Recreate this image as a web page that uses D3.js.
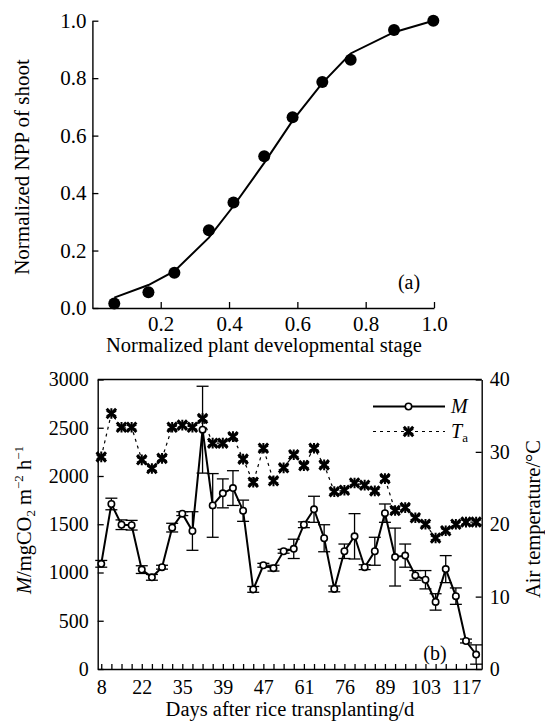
<!DOCTYPE html>
<html>
<head>
<meta charset="utf-8">
<script src="https://cdn.jsdelivr.net/npm/d3@7"></script>
<style>
  body { margin: 0; background: #fff; }
  svg text { font-family: "Liberation Serif", "DejaVu Serif", serif; fill: #000; }
</style>
</head>
<body>
<svg id="fig" width="545" height="722"></svg>
<script>
// panel (a): normalized NPP vs developmental stage
const stage = [0.064, 0.164, 0.240, 0.341, 0.413, 0.503, 0.586, 0.673, 0.756, 0.883, 0.998];
const nppObs = [0.016, 0.055, 0.123, 0.271, 0.367, 0.528, 0.664, 0.787, 0.864, 0.968, 1.0];
const nppFit = [0.036, 0.080, 0.128, 0.245, 0.355, 0.505, 0.652, 0.783, 0.886, 0.960, 1.0];
const stageTicks = [0.2, 0.4, 0.6, 0.8, 1.0];
const nppTicks = [0, 0.2, 0.4, 0.6, 0.8, 1.0];

// panel (b): M with error bars and air temperature, one entry per measurement
const mValues = [1090, 1710, 1495, 1490, 1030, 950, 1055, 1465, 1610, 1430,
                 2480, 1695, 1820, 1875, 1640, 825, 1075, 1045, 1220, 1245,
                 1495, 1655, 1355, 830, 1220, 1375, 1055, 1220, 1615, 1160,
                 1175, 970, 925, 695, 1035, 755, 290, 150];
const mErr = [35, 60, 50, 50, 40, 30, 20, 45, 20, 200,
              450, 330, 150, 180, 110, 30, 20, 30, 20, 100,
              30, 135, 140, 30, 75, 235, 25, 145, 95, 300,
              120, 50, 95, 85, 140, 85, 20, 100];
const taValues = [29.3, 35.3, 33.4, 33.4, 28.9, 27.7, 29.1, 33.4, 33.7, 33.4,
                  34.6, 31.2, 31.2, 32.1, 29.0, 25.8, 30.5, 26.0, 27.8, 29.6,
                  28.1, 30.5, 28.2, 24.5, 24.7, 25.7, 25.4, 24.6, 26.3, 21.9,
                  22.3, 20.9, 20.0, 18.1, 19.1, 20.0, 20.3, 20.3];
const dayLabels = ["8", "22", "35", "39", "47", "61", "76", "89", "103", "117"];
const dayLabelIndex = [0, 4, 8, 12, 16, 20, 24, 28, 32, 36];
const mTicks = [0, 500, 1000, 1500, 2000, 2500, 3000];
const taTicks = [0, 10, 20, 30, 40];

const serif = '"Liberation Serif", "DejaVu Serif", serif';
const svg = d3.select("#fig");

function styleAxis(g, size) {
  g.attr("font-family", serif).attr("font-size", size);
  g.select(".domain").attr("stroke", "#000").attr("stroke-width", 1.4);
  g.selectAll(".tick line").attr("stroke", "#000").attr("stroke-width", 1.3);
  g.selectAll(".tick text").attr("fill", "#000");
}

// ---------- panel (a) ----------
const xa = d3.scaleLinear().domain([0, 1]).range([92.4, 434]);
const ya = d3.scaleLinear().domain([0, 1]).range([308, 20.7]);

svg.append("g")
  .attr("transform", "translate(0,308)")
  .call(d3.axisBottom(xa).tickValues(stageTicks).tickSizeInner(-6).tickSizeOuter(0)
    .tickPadding(8).tickFormat(d3.format(".1f")))
  .call(g => styleAxis(g, 21));

svg.append("g")
  .attr("transform", "translate(92.4,0)")
  .call(d3.axisLeft(ya).tickValues(nppTicks).tickSizeInner(-6).tickSizeOuter(0)
    .tickPadding(6).tickFormat(d3.format(".1f")))
  .call(g => styleAxis(g, 21));

const fitData = stage.map((s, i) => ({ s, f: nppFit[i] }));
svg.append("path")
  .datum(fitData)
  .attr("fill", "none")
  .attr("stroke", "#000")
  .attr("stroke-width", 2)
  .attr("d", d3.line().x(d => xa(d.s)).y(d => ya(d.f)));

svg.selectAll(".npp")
  .data(stage.map((s, i) => ({ s, v: nppObs[i] })))
  .join("circle")
  .attr("class", "npp")
  .attr("cx", d => xa(d.s))
  .attr("cy", d => ya(d.v))
  .attr("r", 6)
  .attr("fill", "#000");

svg.append("text")
  .attr("x", 409).attr("y", 289)
  .attr("text-anchor", "middle")
  .attr("font-size", 20)
  .text("(a)");

svg.append("text")
  .attr("x", 264).attr("y", 352)
  .attr("text-anchor", "middle")
  .attr("font-size", 20.5)
  .text("Normalized plant developmental stage");

svg.append("text")
  .attr("transform", "translate(29,167) rotate(-90)")
  .attr("text-anchor", "middle")
  .attr("font-size", 21)
  .text("Normalized NPP of shoot");

// ---------- panel (b) ----------
const bLeft = 97.7, bRight = 481.7, bTop = 379.5, bBottom = 669;
const xb = d3.scaleLinear().domain([-0.35, 37.55]).range([bLeft, bRight]);
const yb = d3.scaleLinear().domain([0, 3000]).range([bBottom, bTop]);
const yt = d3.scaleLinear().domain([0, 40]).range([bBottom, bTop]);

svg.append("line")
  .attr("x1", bLeft).attr("x2", bRight).attr("y1", bTop).attr("y2", bTop)
  .attr("stroke", "#000").attr("stroke-width", 1.4);

svg.append("g")
  .attr("transform", `translate(0,${bBottom})`)
  .call(d3.axisBottom(xb).tickValues(d3.range(mValues.length)).tickSizeInner(-5).tickSizeOuter(0)
    .tickPadding(11)
    .tickFormat(i => {
      const k = dayLabelIndex.indexOf(i);
      return k >= 0 ? dayLabels[k] : "";
    }))
  .call(g => styleAxis(g, 20));

svg.append("g")
  .attr("transform", `translate(${bLeft},0)`)
  .call(d3.axisLeft(yb).tickValues(mTicks).tickSizeInner(-6).tickSizeOuter(0)
    .tickPadding(9).tickFormat(d3.format("d")))
  .call(g => styleAxis(g, 20));

svg.append("g")
  .attr("transform", `translate(${bRight},0)`)
  .call(d3.axisRight(yt).tickValues(taTicks).tickSizeInner(-6).tickSizeOuter(0)
    .tickPadding(8).tickFormat(d3.format("d")))
  .call(g => styleAxis(g, 20));

const days = mValues.map((m, i) => ({ i, m, e: mErr[i], t: taValues[i] }));
const asterisk = d3.symbol().type(d3.symbolAsterisk).size(80);
const cross = d3.symbol().type(d3.symbolTimes).size(60);

// air temperature
svg.append("path")
  .datum(days)
  .attr("fill", "none")
  .attr("stroke", "#000")
  .attr("stroke-width", 1.2)
  .attr("stroke-dasharray", "3,4")
  .attr("d", d3.line().x(d => xb(d.i)).y(d => yt(d.t)));

function drawStar(sel) {
  sel.append("path").attr("d", asterisk)
    .attr("fill", "none").attr("stroke", "#000").attr("stroke-width", 2);
  sel.append("path").attr("d", cross)
    .attr("fill", "none").attr("stroke", "#000").attr("stroke-width", 3);
}

svg.selectAll(".ta")
  .data(days)
  .join("g")
  .attr("class", "ta")
  .attr("transform", d => `translate(${xb(d.i)},${yt(d.t)})`)
  .call(drawStar);

// error bars
const eb = svg.selectAll(".eb").data(days).join("g").attr("class", "eb")
  .attr("stroke", "#000").attr("stroke-width", 1.3);
eb.append("line")
  .attr("x1", d => xb(d.i)).attr("x2", d => xb(d.i))
  .attr("y1", d => yb(d.m - d.e)).attr("y2", d => yb(d.m + d.e));
eb.append("line")
  .attr("x1", d => xb(d.i) - 6).attr("x2", d => xb(d.i) + 6)
  .attr("y1", d => yb(d.m - d.e)).attr("y2", d => yb(d.m - d.e));
eb.append("line")
  .attr("x1", d => xb(d.i) - 6).attr("x2", d => xb(d.i) + 6)
  .attr("y1", d => yb(d.m + d.e)).attr("y2", d => yb(d.m + d.e));

// M line and open circles
svg.append("path")
  .datum(days)
  .attr("fill", "none")
  .attr("stroke", "#000")
  .attr("stroke-width", 2)
  .attr("d", d3.line().x(d => xb(d.i)).y(d => yb(d.m)));

svg.selectAll(".m")
  .data(days)
  .join("circle")
  .attr("class", "m")
  .attr("cx", d => xb(d.i))
  .attr("cy", d => yb(d.m))
  .attr("r", 3.2)
  .attr("fill", "#fff")
  .attr("stroke", "#000")
  .attr("stroke-width", 1.6);

// legend
const lg = svg.append("g");
lg.append("line").attr("x1", 373).attr("x2", 445).attr("y1", 406.5).attr("y2", 406.5)
  .attr("stroke", "#000").attr("stroke-width", 2);
lg.append("circle").attr("cx", 408.5).attr("cy", 406.5).attr("r", 3.2)
  .attr("fill", "#fff").attr("stroke", "#000").attr("stroke-width", 1.6);
lg.append("text").attr("x", 451).attr("y", 413).attr("font-size", 20)
  .attr("font-style", "italic").text("M");
lg.append("line").attr("x1", 373).attr("x2", 445).attr("y1", 431.5).attr("y2", 431.5)
  .attr("stroke", "#000").attr("stroke-width", 1.2).attr("stroke-dasharray", "3,4");
lg.append("g").attr("transform", "translate(408.5,431.5)").call(drawStar);
const tl = lg.append("text").attr("x", 451).attr("y", 438).attr("font-size", 20);
tl.append("tspan").attr("font-style", "italic").text("T");
tl.append("tspan").attr("font-size", 13).attr("dy", 4).text("a");

svg.append("text")
  .attr("x", 435).attr("y", 660)
  .attr("text-anchor", "middle")
  .attr("font-size", 20)
  .text("(b)");

svg.append("text")
  .attr("x", 290).attr("y", 716)
  .attr("text-anchor", "middle")
  .attr("font-size", 20.5)
  .text("Days after rice transplanting/d");

const ml = svg.append("text")
  .attr("transform", "translate(31,520) rotate(-90)")
  .attr("text-anchor", "middle")
  .attr("font-size", 20.5);
ml.append("tspan").attr("font-style", "italic").text("M");
ml.append("tspan").text("/mgCO");
ml.append("tspan").attr("font-size", 13).attr("dy", 4).text("2");
ml.append("tspan").attr("dy", -4).text(" m");
ml.append("tspan").attr("font-size", 13).attr("dy", -8).text("\u22122");
ml.append("tspan").attr("dy", 8).text(" h");
ml.append("tspan").attr("font-size", 13).attr("dy", -8).text("\u22121");

svg.append("text")
  .attr("transform", "translate(540,519) rotate(-90)")
  .attr("text-anchor", "middle")
  .attr("font-size", 20.5)
  .text("Air temperature/\u00B0C");
</script>
</body>
</html>
